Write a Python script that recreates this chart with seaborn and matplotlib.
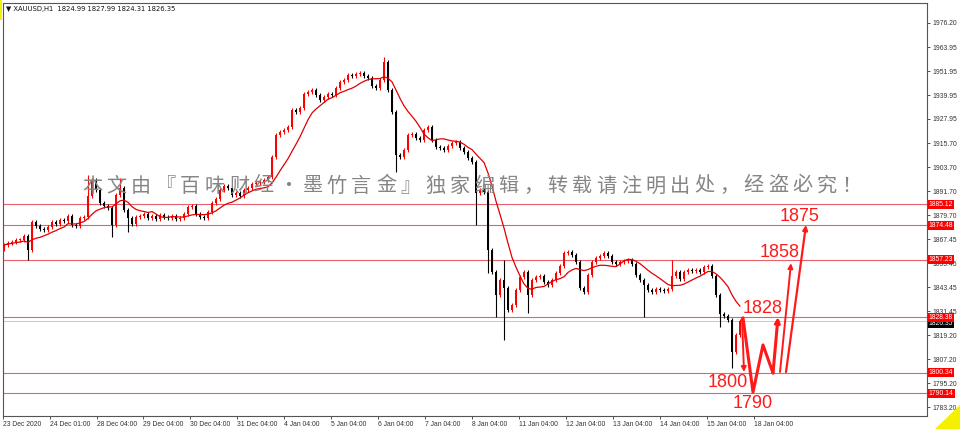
import matplotlib
matplotlib.use("Agg")
import matplotlib.pyplot as plt
import matplotlib.transforms as mtransforms
from matplotlib.patches import Polygon, Rectangle
import numpy as np
import pandas as pd
import seaborn as sns

# XAUUSD H1 chart (one candle here ~ 2 hours)
closes = [
    1864.6, 1865.6, 1866.1, 1867.1, 1867.1, 1869.1, 1862.1, 1876.2, 1874.2, 1872.7,
    1872.2, 1873.7, 1876.2, 1875.2, 1877.2, 1876.7, 1879.2, 1874.7, 1874.2, 1878.2,
    1878.7, 1889.2, 1897.3, 1892.3, 1885.7, 1884.2, 1883.2, 1874.7, 1889.7, 1893.3,
    1882.2, 1878.2, 1875.2, 1878.7, 1879.2, 1880.2, 1878.2, 1879.2, 1877.7, 1879.7,
    1878.7, 1878.2, 1879.2, 1877.7, 1878.2, 1880.2, 1883.7, 1884.2, 1880.2, 1878.7,
    1878.2, 1881.2, 1885.7, 1887.7, 1892.3, 1894.3, 1893.3, 1889.7, 1890.8, 1889.2,
    1892.3, 1893.3, 1895.3, 1895.8, 1896.3, 1897.3, 1898.8, 1908.8, 1919.9, 1921.4,
    1922.4, 1923.9, 1932.5, 1931.5, 1933.5, 1940.5, 1941.5, 1942.5, 1940.0, 1937.5,
    1939.0, 1940.5, 1940.0, 1943.5, 1946.5, 1947.6, 1950.1, 1949.6, 1950.6, 1951.1,
    1949.6, 1948.6, 1944.5, 1943.5, 1947.6, 1956.6, 1942.5, 1931.5, 1909.9, 1908.8,
    1912.4, 1919.9, 1920.4, 1918.4, 1917.4, 1922.4, 1923.9, 1917.4, 1913.9, 1913.4,
    1912.4, 1914.4, 1915.9, 1916.4, 1913.4, 1911.4, 1908.4, 1906.3, 1890.8, 1892.3,
    1891.3, 1862.1, 1851.0, 1839.5, 1847.0, 1843.0, 1832.0, 1834.5, 1842.0, 1848.5,
    1851.0, 1839.5, 1847.0, 1848.5, 1849.0, 1846.0, 1844.5, 1847.0, 1850.6, 1854.1,
    1860.6, 1861.1, 1859.6, 1856.1, 1843.0, 1841.0, 1849.6, 1856.1, 1858.1, 1859.1,
    1860.6, 1859.1, 1856.1, 1855.1, 1856.1, 1856.6, 1857.1, 1855.1, 1849.6, 1847.0,
    1844.5, 1842.0, 1841.0, 1842.5, 1842.0, 1841.5, 1842.5, 1849.0, 1851.0, 1847.5,
    1851.0, 1852.1, 1851.6, 1852.1, 1851.0, 1853.6, 1854.1, 1849.0, 1839.5, 1829.9,
    1828.9, 1826.9, 1810.8, 1819.4, 1826.35,
]
first_open = 1863.0
# long wicks that stand out in the picture (candle index -> price)
long_highs = {21: 1899.8, 29: 1898.3, 95: 1959.1, 125: 1857.1, 167: 1857.1}
long_lows = {6: 1857.1, 27: 1868.6, 31: 1871.2, 98: 1901.3, 118: 1874.7, 121: 1850.5,
             123: 1828.4, 125: 1816.9, 131: 1830.4, 160: 1828.4, 179: 1823.4, 182: 1802.8}
wick = 1.2

levels = [1885.12, 1874.48, 1857.23, 1828.38, 1800.34, 1790.14]
bid = 1826.35
price_ticks = [1976.20, 1963.95, 1951.95, 1939.95, 1927.95, 1915.70, 1903.70, 1891.70,
               1879.70, 1867.45, 1855.45, 1843.45, 1831.45, 1819.20, 1807.20, 1795.20, 1783.20]
time_labels = ["23 Dec 2020", "24 Dec 01:00", "28 Dec 04:00", "29 Dec 04:00", "30 Dec 04:00",
               "31 Dec 04:00", "4 Jan 04:00", "5 Jan 04:00", "6 Jan 04:00", "7 Jan 04:00",
               "8 Jan 04:00", "11 Jan 04:00", "12 Jan 04:00", "13 Jan 04:00", "14 Jan 04:00",
               "15 Jan 04:00", "18 Jan 04:00"]
time_label_bars = [-0.25, 11.5, 23.25, 34.75, 46.5, 58.25, 70, 81.75, 93.5, 105.25, 117,
                   128.75, 140.5, 152.25, 164, 175.75, 187.5]

# hand drawn forecast path: (bar offset, price)
fc_down = [(184.5, 1827.9), (185.0, 1800.8)]
fc_zigzag = [(184.75, 1828.0), (187.25, 1790.7), (189.75, 1814.4), (192.25, 1800.3), (193.5, 1828.4)]
fc_up1 = [(194.0, 1800.8), (196.75, 1855.5)]
fc_up2 = [(195.5, 1800.8), (200.5, 1874.7)]
fc_labels = [("1800", 181.0, 1795.3), ("1790", 187.25, 1785.2), ("1828", 189.75, 1832.9),
             ("1858", 194.0, 1861.1), ("1875", 199.0, 1878.7)]

watermark = "本文由『百味财经・墨竹言金』独家编辑，转载请注明出处，经盗必究！"
header = "XAUUSD,H1  1824.99 1827.99 1824.31 1826.35"

sns.set_style("white")
plt.rcParams['font.family'] = ['Liberation Sans', 'DejaVu Sans']

df = pd.DataFrame({"bar": np.arange(len(closes)), "close": closes})
df["open"] = [first_open] + closes[:-1]
df["up"] = df["close"] >= df["open"]
df["high"] = [long_highs.get(i, max(o, c) + wick) for i, (o, c) in enumerate(zip(df["open"], df["close"]))]
df["low"] = [long_lows.get(i, min(o, c) - wick) for i, (o, c) in enumerate(zip(df["open"], df["close"]))]
df["ma"] = df["close"].rolling(10, min_periods=1).mean()

W, H = 960, 429
fig = plt.figure(figsize=(W / 100, H / 100), dpi=100)
ax = fig.add_axes([3 / W, 1 - 416 / H, (927 - 3) / W, (416 - 3) / H])

# support / resistance lines
for lv in levels:
    ax.axhline(lv, color='#e8606a', lw=0.8, zorder=1)
ax.axhline(bid, color='#c8c8c8', lw=0.7, zorder=1)

# watermark, one glyph at a time to get the wide spacing
for i, ch in enumerate(watermark):
    fig.text((92 + 24.5 * i) / W, 1 - 186 / H, ch, ha='center', va='center',
             fontsize=14.5, color='#858585', family=['Noto Sans CJK SC', 'DejaVu Sans'], zorder=0)

# candles
colors = np.where(df["up"], '#ff0000', '#000000')
ax.vlines(df["bar"], df["low"], df["high"], colors=colors, lw=0.8, zorder=3)
body_lo = np.minimum(df["open"], df["close"])
body_h = np.maximum(np.abs(df["close"] - df["open"]), 0.3)
ax.bar(df["bar"], body_h, bottom=body_lo, width=0.7, color=colors, linewidth=0, zorder=3)

sns.lineplot(data=df, x="bar", y="ma", color='#e00000', lw=0.9, ax=ax, zorder=4)

# forecast arrows
red = '#ff1a1a'
def arrow_path(pts, lw):
    xs, ys = zip(*pts)
    ax.plot(xs[:-1], ys[:-1], color=red, lw=lw, solid_capstyle='round', zorder=6)
    ax.annotate("", xy=pts[-1], xytext=pts[-2],
                arrowprops=dict(arrowstyle='-|>', color=red, lw=lw,
                                mutation_scale=7, shrinkA=0, shrinkB=0), zorder=6)

arrow_path(fc_down, 1.4)
arrow_path(fc_zigzag, 2.2)
arrow_path(fc_up1, 1.4)
arrow_path(fc_up2, 1.6)
for txt, xb, yp in fc_labels:
    ax.text(xb, yp, txt, ha='center', va='center', fontsize=13, color=red, zorder=7)

# axes cosmetics
ax.set_xlim(-0.25, 230.75)
ax.set_ylim(1778.68, 1986.25)
ax.set_xlabel("")
ax.set_ylabel("")
ax.yaxis.tick_right()
ax.set_yticks(price_ticks)
ax.set_yticklabels([f"{p:.2f}" for p in price_ticks])
ax.set_xticks(time_label_bars)
ax.set_xticklabels(time_labels, ha='left')
ax.tick_params(axis='y', which='both', right=True, length=2.5, width=0.6, pad=1.5,
               labelsize=4.9, colors='#333333')
ax.tick_params(axis='x', which='both', bottom=True, length=2.5, width=0.6, pad=1.0,
               labelsize=4.9, colors='#333333')
for s in ax.spines.values():
    s.set_color('#555555')
    s.set_linewidth(0.8)

# price tags on the right edge
trans = mtransforms.blended_transform_factory(ax.transAxes, ax.transData)
ax.text(1.002, bid - 1.3, f"{bid:.2f}", transform=trans, ha='left', va='center', fontsize=4.9,
        color='white', bbox=dict(boxstyle='square,pad=0.15', fc='#000000', ec='none'),
        zorder=8, clip_on=False)
for lv in levels:
    ax.text(1.002, lv, f"{lv:.2f}", transform=trans, ha='left', va='center', fontsize=4.9,
            color='white', bbox=dict(boxstyle='square,pad=0.15', fc='#ff0000', ec='none'),
            zorder=9, clip_on=False)

# header line in the top-left corner
ax.text(0.003, 0.992, "▼ " + header, transform=ax.transAxes, ha='left', va='top',
        fontsize=4.9, color='#111111', family=['DejaVu Sans'], zorder=9)

# terminal corner decorations
fig.patches.append(Polygon([(935 / W, 0), (1, 0), (1, 24 / H)], closed=True,
                           transform=fig.transFigure, fc='#f5f000', ec='none'))
fig.patches.append(Rectangle((0, 1 - 20 / H), 2 / W, 20 / H, transform=fig.transFigure,
                             fc='#f5f000', ec='none'))

fig.savefig("out.png", dpi=100, facecolor='white')
